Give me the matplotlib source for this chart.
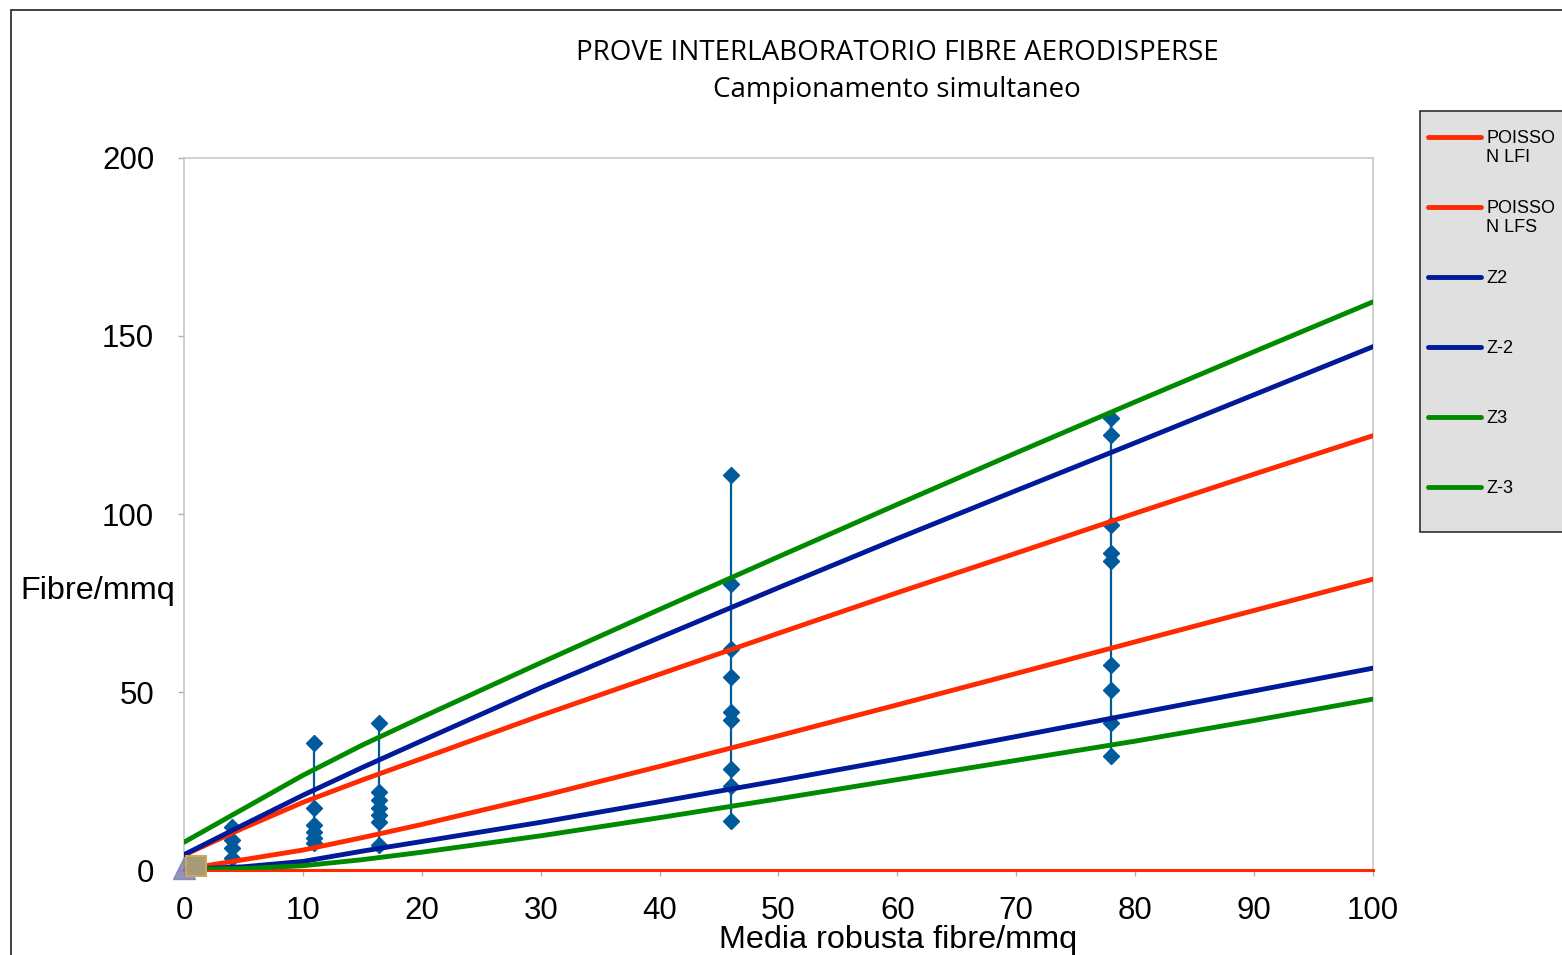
import matplotlib
matplotlib.use("Agg")
import matplotlib.pyplot as plt
from matplotlib.patches import Rectangle
from matplotlib.lines import Line2D

# curve x positions (Media robusta fibre/mmq)
curve_x = [0, 5, 10, 15, 20, 30, 40, 50, 60, 70, 80, 90, 100]

# curve values
poisson_lfi = [0.2, 2.9, 5.6, 9.1, 12.8, 20.7, 29.1, 37.7, 46.4, 55.2, 64.1, 72.9, 81.7]
poisson_lfs = [4.2, 11.8, 19.0, 25.3, 31.3, 43.4, 55, 66.5, 77.9, 89, 100.2, 111.2, 122]
z2 = [4.3, 12.7, 21.0, 28.8, 36.3, 51.2, 65.3, 79.3, 93.1, 106.6, 120, 133.5, 147]
z_2 = [0.2, 0.9, 2.4, 5.3, 8, 13.4, 19.2, 25.1, 31.2, 37.5, 43.9, 50.3, 56.7]
z3 = [7.8, 17.2, 26.6, 35.1, 42.9, 58.2, 73.2, 88, 102.7, 117.2, 131.5, 145.6, 159.6]
z_3 = [0.2, 0.4, 1.2, 2.9, 5.0, 9.6, 14.7, 20, 25.4, 30.8, 36.2, 42.0, 48]

# lab results, one column per sampling
lab_x = [4.0, 10.9, 16.4, 46.0, 78.0]
lab_vals = [
    [12.2, 8.4, 6.2, 3.4],
    [35.6, 17.4, 12.6, 10.7, 9, 7.6],
    [41.3, 22, 19.7, 17.4, 15.4, 13.5, 7],
    [111, 80.3, 62, 54.2, 44.4, 42, 28.4, 23.5, 13.8],
    [127, 122.2, 97, 89, 86.7, 57.6, 50.6, 41.4, 32],
]

labels = ["POISSO\nN LFI", "POISSO\nN LFS", "Z2", "Z-2", "Z3", "Z-3"]
series = [poisson_lfi, poisson_lfs, z2, z_2, z3, z_3]
colors = ["#ff2a00", "#ff2a00", "#001a99", "#001a99", "#008a00", "#008a00"]

W, H = 1562, 955
fig = plt.figure(figsize=(W / 100, H / 100), dpi=100)
plt.rcParams['font.family'] = ['Liberation Sans', 'DejaVu Sans']

ax = fig.add_axes([184 / W, 1 - 870 / H, (1373 - 184) / W, (870 - 158) / H])

# vertical lines with diamonds
pt_color = "#005a9c"
for i, (x, vals) in enumerate(zip(lab_x, lab_vals)):
    lc = "#33c8f0" if i == 0 else pt_color
    ax.plot([x, x], [min(vals), max(vals)], color=lc, lw=1.6, zorder=2)
    ax.plot([x] * len(vals), vals, ls="none", marker="D", ms=8,
            color=pt_color, zorder=3)
# brighter top segment at 78
ax.plot([lab_x[4], lab_x[4]], [lab_vals[4][1], lab_vals[4][0]],
        color="#1f4fff", lw=1.6, zorder=2.5)

# zero line
ax.plot([0, 100], [0, 0], color="#ff2a00", lw=2.2, zorder=4, clip_on=False)

for vals, c in zip(series, colors):
    ax.plot(curve_x, vals, color=c, lw=3.5, zorder=5, solid_capstyle="round")

# markers at origin
ax.plot([0], [0.5], marker="^", ms=16, color="#8080b0", alpha=0.85,
        ls="none", zorder=6, clip_on=False)
ax.plot([1.0], [1.0], marker="s", ms=14, color="#a89a78", mec="#c8a860",
        mew=1.5, ls="none", zorder=7, clip_on=False)

ax.set_xlim(0, 100)
ax.set_ylim(0, 200)
ax.set_xticks(range(0, 101, 10))
ax.set_yticks(range(0, 201, 50))
for s in ax.spines.values():
    s.set_color("#c8c8c8")
    s.set_linewidth(1.2)
ax.tick_params(axis="both", labelsize=22.5, color="#b0b0b0", length=4.5, width=1)
ax.tick_params(axis="y", pad=17)
ax.tick_params(axis="x", pad=14)

fig.text(20 / W, 1 - 591 / H, "Fibre/mmq", fontsize=23.3, ha="left", va="center")
fig.text(898 / W, 1 - 940 / H, "Media robusta fibre/mmq", fontsize=23.3,
         ha="center", va="center")

tfont = ['Open Sans', 'DejaVu Sans']
fig.text(897 / W, 1 - 53 / H, "PROVE INTERLABORATORIO FIBRE AERODISPERSE",
         fontsize=20, ha="center", va="center", family=tfont)
fig.text(897 / W, 1 - 90 / H, "Campionamento simultaneo",
         fontsize=20, ha="center", va="center", family=tfont)

# outer chart frame
fig.add_artist(Rectangle((11 / W, -0.5), 2, 1.5 - 10 / H, transform=fig.transFigure,
                         fill=False, ec="#202020", lw=1.2))

# legend box
fig.add_artist(Rectangle((1420 / W, 1 - 532 / H), 0.5, (532 - 111) / H,
                         transform=fig.transFigure, fc="#e0e0e0",
                         ec="#303030", lw=1.2))
for i, (lab, c) in enumerate(zip(labels, colors)):
    y = 1 - (137 + 70 * i) / H
    fig.add_artist(Line2D([1428 / W, 1481 / W], [y, y], color=c, lw=3.5,
                          solid_capstyle="round", transform=fig.transFigure))
    fig.text(1486 / W, y + 7 / H, lab, fontsize=13, ha="left", va="top",
             linespacing=1.15)

fig.savefig("out.png", dpi=100)
